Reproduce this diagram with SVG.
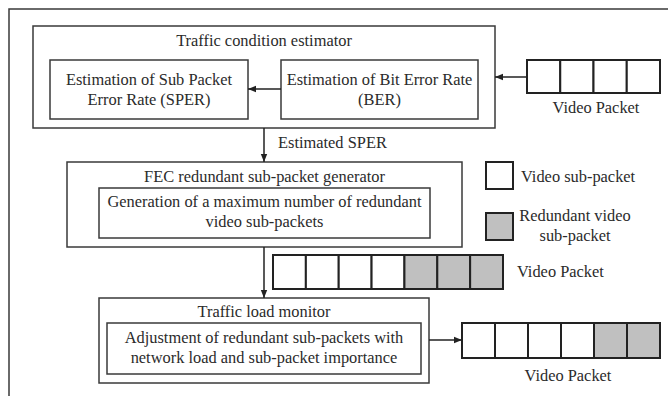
<svg xmlns="http://www.w3.org/2000/svg" width="668" height="396" viewBox="0 0 668 396" font-family="'Liberation Serif', 'Times New Roman', serif">
<defs>
<style>
text{font-family:"Liberation Serif","Times New Roman",serif;font-size:16.4px;fill:#2b2b2b}
.c{text-anchor:middle}
.box{fill:#fff;stroke:#3a3a3a;stroke-width:1.5}
.cell{fill:#fff;stroke:#222;stroke-width:2}
.red{fill:#c0c0c0;stroke:#222;stroke-width:2}
.ln{stroke:#222;stroke-width:1.5;fill:none}
</style>
<marker id="ah" viewBox="0 0 10 10" refX="10" refY="5" markerWidth="8" markerHeight="8" markerUnits="userSpaceOnUse" orient="auto">
<path d="M0,1 L10,5 L0,9 Z" fill="#222"/>
</marker>
</defs>
<rect width="668" height="396" fill="#fff"/>
<rect id="frame" x="9" y="9" width="680" height="400" fill="none" stroke="#3a3a3a" stroke-width="1.5"/>

<g id="traffic-condition-estimator">
<rect class="box" x="33" y="26" width="462" height="102"/>
<text class="c" x="264" y="46">Traffic condition estimator</text>
</g>
<g id="sper">
<rect class="box" x="50" y="60" width="198" height="59"/>
<text class="c" x="149" y="85">Estimation of Sub Packet</text>
<text class="c" x="149" y="105">Error Rate (SPER)</text>
</g>
<g id="ber">
<rect class="box" x="281" y="60" width="197" height="59"/>
<text class="c" x="379.5" y="85">Estimation of Bit Error Rate</text>
<text class="c" x="379.5" y="105">(BER)</text>
</g>
<g id="packet-in">
<rect class="cell" x="527" y="60" width="33.25" height="33"/>
<rect class="cell" x="560.25" y="60" width="33.25" height="33"/>
<rect class="cell" x="593.5" y="60" width="33.25" height="33"/>
<rect class="cell" x="626.75" y="60" width="33.25" height="33"/>
<text class="c" x="596" y="113">Video Packet</text>
</g>

<g id="fec">
<rect class="box" x="67" y="162" width="395" height="85"/>
<text class="c" x="264.5" y="182">FEC redundant sub-packet generator</text>
</g>
<g id="generation">
<rect class="box" x="99" y="188" width="331" height="50"/>
<text class="c" x="264.5" y="207">Generation of a maximum number of redundant</text>
<text class="c" x="264.5" y="227">video sub-packets</text>
</g>

<g id="legend-video">
<rect class="cell" x="486" y="162" width="27" height="27"/>
<text x="521" y="182">Video sub-packet</text>
</g>
<g id="legend-redundant">
<rect class="red" x="486" y="213" width="27" height="27"/>
<text class="c" x="575" y="221">Redundant video</text>
<text class="c" x="575" y="241">sub-packet</text>
</g>

<g id="packet-mid">
<rect class="cell" x="273" y="255" width="32.86" height="34"/>
<rect class="cell" x="305.86" y="255" width="32.86" height="34"/>
<rect class="cell" x="338.71" y="255" width="32.86" height="34"/>
<rect class="cell" x="371.57" y="255" width="32.86" height="34"/>
<rect class="red" x="404.43" y="255" width="32.86" height="34"/>
<rect class="red" x="437.29" y="255" width="32.86" height="34"/>
<rect class="red" x="470.14" y="255" width="32.86" height="34"/>
<text x="517" y="277">Video Packet</text>
</g>

<g id="traffic-load-monitor">
<rect class="box" x="99" y="298" width="330" height="85"/>
<text class="c" x="264" y="317">Traffic load monitor</text>
</g>
<g id="adjustment">
<rect class="box" x="107" y="323" width="314" height="51"/>
<text class="c" x="264" y="343">Adjustment of redundant sub-packets with</text>
<text class="c" x="264" y="363">network load and sub-packet importance</text>
</g>

<g id="packet-out">
<rect class="cell" x="462" y="323" width="33" height="35"/>
<rect class="cell" x="495" y="323" width="33" height="35"/>
<rect class="cell" x="528" y="323" width="33" height="35"/>
<rect class="cell" x="561" y="323" width="33" height="35"/>
<rect class="red" x="594" y="323" width="33" height="35"/>
<rect class="red" x="627" y="323" width="33" height="35"/>
<text class="c" x="568" y="381">Video Packet</text>
</g>

<g id="connectors">
<line class="ln" x1="527" y1="77" x2="495" y2="77" marker-end="url(#ah)"/>
<line class="ln" x1="281" y1="89" x2="248" y2="89" marker-end="url(#ah)"/>
<line class="ln" x1="264" y1="128" x2="264" y2="162" marker-end="url(#ah)"/>
<text x="278" y="148">Estimated SPER</text>
<line class="ln" x1="264" y1="247" x2="264" y2="298" marker-end="url(#ah)"/>
<line class="ln" x1="429" y1="340" x2="462" y2="340" marker-end="url(#ah)"/>
</g>
</svg>
